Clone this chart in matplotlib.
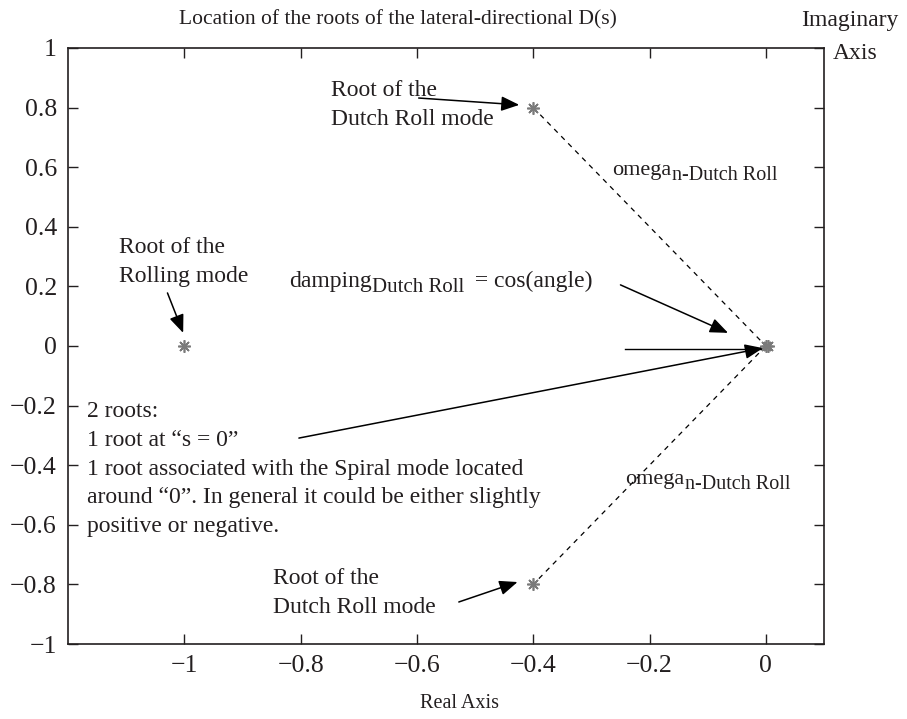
import matplotlib
matplotlib.use('Agg')
from matplotlib import pyplot as plt

plt.rcParams['font.family'] = ['Liberation Serif', 'DejaVu Serif']

# roots of the lateral-directional characteristic polynomial
root_re = [-1.0, -0.4, -0.4, 0.0, 0.004]
root_im = [0.0, 0.8, -0.8, 0.0, 0.0]

xticks = [-1, -0.8, -0.6, -0.4, -0.2, 0]
yticks = [-1, -0.8, -0.6, -0.4, -0.2, 0, 0.2, 0.4, 0.6, 0.8, 1]

fs = 17
tc = '#231f20'


def tick_fmt(v):
    s = '%g' % abs(v)
    return ('\u2212' + s) if v < 0 else s


fig = plt.figure(figsize=(9.07, 7.19), dpi=100)
ax = fig.add_axes([0.075, 0.1043, 0.8335, 0.829])

# dashed lines from the Dutch roll roots to the origin
ax.plot([root_re[1], root_re[3]], [root_im[1], root_im[3]], 'k--', lw=0.9, dashes=(4, 4))
ax.plot([root_re[3], root_re[2]], [root_im[3], root_im[2]], 'k--', lw=0.9, dashes=(4, 4))
# reference line for the angle
ax.plot([-0.242, 0.0], [-0.01, -0.01], 'k-', lw=1.0)

ax.plot(root_re, root_im, linestyle='none', marker=(8, 2, 0), markersize=9,
        color='#7a7a7a', mew=1.2)

ax.set_xlim(-1.2, 0.1)
ax.set_ylim(-1, 1)
ax.set_xticks(xticks)
ax.set_yticks(yticks)
ax.set_xticklabels([tick_fmt(v) for v in xticks])
ax.set_yticklabels([tick_fmt(v) for v in yticks])
ax.tick_params(direction='in', top=True, right=True, length=7, width=1,
               labelsize=18.5, pad=8, color=tc, labelcolor=tc)
for s in ax.spines.values():
    s.set_linewidth(1.2)
    s.set_color(tc)

fig.text(0.439, 0.972, 'Location of the roots of the lateral-directional D(s)',
         ha='center', va='center', fontsize=15.5, color=tc)
fig.text(0.937, 0.972, 'Imaginary', ha='center', va='center', fontsize=17, color=tc)
fig.text(0.943, 0.926, 'Axis', ha='center', va='center', fontsize=17, color=tc)
fig.text(0.507, 0.022, 'Real Axis', ha='center', va='center', fontsize=14.5, color=tc)

aprops = dict(arrowstyle='-|>,head_length=1.1,head_width=0.45', color='k', lw=1.1,
              shrinkA=0, shrinkB=0)

ax.annotate('', xy=(-0.424, 0.809), xytext=(-0.597, 0.832), arrowprops=aprops)
ax.annotate('', xy=(-1.002, 0.044), xytext=(-1.029, 0.178), arrowprops=aprops)
ax.annotate('', xy=(-0.065, 0.044), xytext=(-0.250, 0.205), arrowprops=aprops)
ax.annotate('', xy=(-0.005, -0.007), xytext=(-0.803, -0.309), arrowprops=aprops)
ax.annotate('', xy=(-0.427, -0.792), xytext=(-0.528, -0.859), arrowprops=aprops)


def label_sub(x, y, base, sub, rest='', size=17, sub_size=15, gap=0.5, rest_gap=1):
    # base text, then a lowered subscript, then the rest back on the baseline
    t1 = ax.text(x, y, base, fontsize=size, va='baseline', ha='left', color=tc)
    t2 = ax.annotate(sub, xy=(1, 0), xycoords=t1, xytext=(gap, 0),
                     textcoords='offset points', fontsize=sub_size, va='baseline',
                     ha='left', color=tc)
    if rest:
        ax.annotate(rest, xy=(1, 0), xycoords=(t2, t1), xytext=(rest_gap, 0),
                    textcoords='offset points', fontsize=size, va='bottom',
                    ha='left', color=tc)


# multi-line labels are anchored at the baseline of their last line
ax.text(-0.748, 0.742, 'Root of the\nDutch Roll mode', fontsize=fs, color=tc,
        va='baseline', ha='left', linespacing=1.48)
ax.text(-1.113, 0.215, 'Root of the\nRolling mode', fontsize=fs, color=tc,
        va='baseline', ha='left', linespacing=1.48)
label_sub(-0.820, 0.198, 'damping', 'Dutch Roll', ' = cos(angle)', rest_gap=3)
label_sub(-0.264, 0.574, 'omega', 'n-Dutch Roll', size=16, sub_size=14.5)
label_sub(-0.242, -0.463, 'omega', 'n-Dutch Roll', size=16, sub_size=14.5)
ax.text(-1.168, -0.624,
        '2 roots:\n1 root at \u201cs = 0\u201d\n1 root associated with the Spiral mode located\n'
        'around \u201c0\u201d. In general it could be either slightly\npositive or negative.',
        fontsize=fs, color=tc, va='baseline', ha='left', linespacing=1.48)
ax.text(-0.847, -0.896, 'Root of the\nDutch Roll mode', fontsize=fs, color=tc,
        va='baseline', ha='left', linespacing=1.48)

plt.savefig('out.png', dpi=100)
